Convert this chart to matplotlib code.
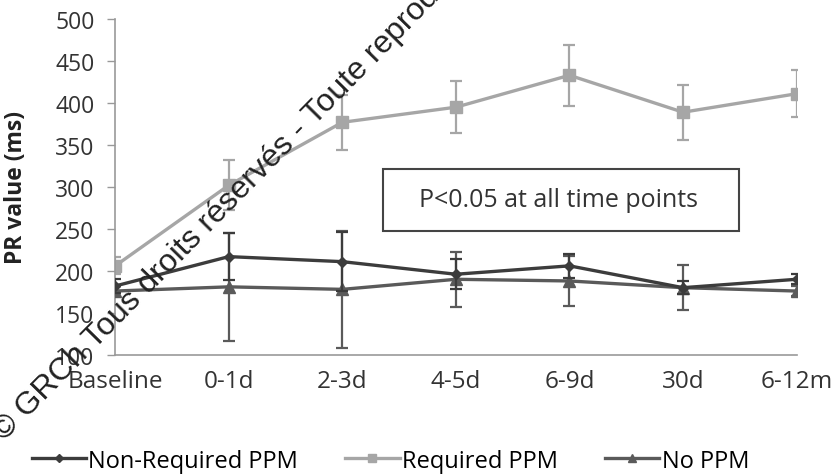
from matplotlib import pyplot as plt
from matplotlib.patches import Rectangle
from matplotlib.lines import Line2D
import numpy as np

plt.rcParams['font.family'] = ['Open Sans', 'DejaVu Sans']

# time points
labels = ['Baseline', '0-1d', '2-3d', '4-5d', '6-9d', '30d', '6-12m']

# PR values (ms)
nonReq = [182, 217, 211, 196, 206, 180, 190]
nonReqErr = [8, 28, 35, 18, 14, 8, 6]
req = [206, 302, 377, 395, 433, 389, 411]
reqErr = [10, 30, 33, 31, 36, 33, 28]
noPPM = [176, 181, 178, 190, 188, 180, 176]
noPPMErr = [6, 64, 70, 33, 30, 27, 6]

cNon = '#3c3c3c'
cReq = '#a6a6a6'
cNo = '#5a5a5a'

xs = np.arange(len(labels))

fig = plt.figure(figsize=(8.35, 4.77), dpi=100)
ax = fig.add_axes([0.138, 0.254, 0.816, 0.704])

ax.errorbar(xs, req, yerr=reqErr, color=cReq, marker='s', markersize=8,
            lw=2.4, capsize=4, elinewidth=1.6, capthick=1.6, zorder=2)
ax.errorbar(xs, nonReq, yerr=nonReqErr, color=cNon, marker='D', markersize=5,
            lw=2.4, capsize=4, elinewidth=1.6, capthick=1.6, zorder=4)
ax.errorbar(xs, noPPM, yerr=noPPMErr, color=cNo, marker='^', markersize=8,
            lw=2.4, capsize=4, elinewidth=1.6, capthick=1.6, zorder=3)

ax.set_xlim(0, 6)
ax.set_ylim(100, 500)
ax.set_yticks(np.arange(100, 501, 50))
ax.set_xticks(xs)
ax.set_xticklabels(labels)
ax.tick_params(axis='x', length=0, pad=10, labelsize=17.5, colors='#333333')
ax.tick_params(axis='y', length=6, width=1, color='#999999', pad=9,
               labelsize=16.5, labelcolor='#333333')
for s in ['top', 'right']:
    ax.spines[s].set_visible(False)
for s in ['left', 'bottom']:
    ax.spines[s].set_color('#999999')
    ax.spines[s].set_linewidth(1.2)
ax.set_ylabel('PR value (ms)', fontsize=16.5, fontweight='bold', color='#222222')
ax.yaxis.set_label_coords(-0.128, 0.5)

# annotation box
ax.add_patch(Rectangle((0.393, 0.369), 0.523, 0.185, transform=ax.transAxes,
                       fill=False, edgecolor='#444444', lw=1.5, zorder=5))
ax.text(0.650, 0.462, 'P<0.05 at all time points', transform=ax.transAxes,
        ha='center', va='center', fontsize=18, color='#333333')

# legend without the error bars
hNon = Line2D([], [], color=cNon, lw=2.4, marker='D', markersize=4)
hReq = Line2D([], [], color=cReq, lw=2.4, marker='s', markersize=6)
hNo = Line2D([], [], color=cNo, lw=2.4, marker='^', markersize=6)
fig.legend([hNon, hReq, hNo], ['Non-Required PPM', 'Required PPM', 'No PPM'],
           loc='center left', bbox_to_anchor=(0.018, 0.032), ncol=3, frameon=False,
           fontsize=17, handlelength=2.3, handletextpad=0.1, columnspacing=2.0,
           borderpad=0.2)

# watermark
fig.text(0.0046, 0.074, '\u00a9 GRCh Tous droits r\u00e9serv\u00e9s - Toute reproduction',
         rotation=45.5, fontsize=23, color='#222222', ha='left', va='baseline',
         rotation_mode='anchor', zorder=10, family='Liberation Sans')

fig.savefig('out.png', dpi=100)
